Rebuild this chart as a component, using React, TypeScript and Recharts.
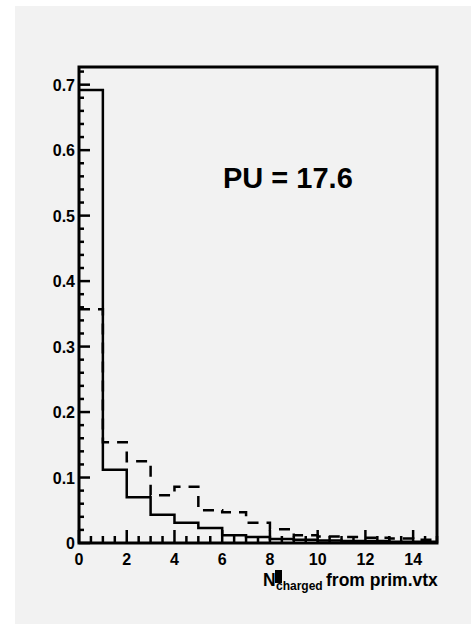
import { ComposedChart, Line, XAxis, YAxis, ReferenceArea, Customized } from 'recharts';

// bin edges 0..15, one value per bin
const binEdges = [0, 1, 2, 3, 4, 5, 6, 7, 8, 9, 10, 11, 12, 13, 14, 15];
const solidValues = [0.692, 0.112, 0.07, 0.043, 0.031, 0.023, 0.012, 0.009, 0.006, 0.005, 0.004, 0.003, 0.003, 0.002, 0.002];
const dashedValues = [0.357, 0.154, 0.125, 0.073, 0.086, 0.05, 0.047, 0.031, 0.021, 0.012, 0.01, 0.009, 0.008, 0.007, 0.005];

const xTicks = Array.from({ length: 31 }, (_, i) => i * 0.5);
const yTicks = Array.from({ length: 37 }, (_, i) => Math.round(i * 2) / 100);

const Y_MAX = 0.727;
const FONT = '"Liberation Sans", Arial, Helvetica, sans-serif';

const data = binEdges.map((x, i) => ({
  x,
  solid: solidValues[Math.min(i, solidValues.length - 1)],
  dashed: dashedValues[Math.min(i, dashedValues.length - 1)],
}));

function XTick({ x, y, payload }: any) {
  const v = payload.value;
  const major = Math.abs(v / 2 - Math.round(v / 2)) < 1e-6;
  return (
    <g>
      <line x1={x} y1={y} x2={x} y2={y - (major ? 13 : 7)} stroke="#000" strokeWidth={2.5} />
      {major && v < 15 && (
        <text x={x} y={y + 22} textAnchor="middle" fontFamily={FONT} fontWeight="bold" fontSize={16} fill="#000">
          {v}
        </text>
      )}
    </g>
  );
}

function YTick({ x, y, payload }: any) {
  const v = payload.value;
  const major = Math.abs(v * 10 - Math.round(v * 10)) < 1e-6;
  return (
    <g>
      <line x1={x} y1={y} x2={x + (major ? 11 : 5)} y2={y} stroke="#000" strokeWidth={2.5} />
      {major && (
        <text x={x - 4} y={y + 6} textAnchor="end" fontFamily={FONT} fontWeight="bold" fontSize={16} fill="#000">
          {v === 0 ? '0' : v.toFixed(1)}
        </text>
      )}
    </g>
  );
}

function XTitle({ viewBox }: any) {
  const { x, y } = viewBox;
  return (
    <g fontFamily={FONT} fontWeight="bold" fill="#000">
      <text x={x + 184} y={y + 42.5} fontSize={17.5}>N</text>
      <rect x={x + 196} y={y + 27} width={7} height={13} fill="#000" />
      <text x={x + 197} y={y + 46.5} fontSize={12}>charged</text>
      <text x={x + 247} y={y + 42.5} fontSize={17.5}>from prim.vtx</text>
    </g>
  );
}

function PuLabel() {
  return (
    <text x={208} y={181.5} fontFamily={FONT} fontWeight="bold" fontSize={29} fill="#000">
      PU = 17.6
    </text>
  );
}

export default function App() {
  return (
    <div style={{ position: 'absolute', left: 0, top: 0, width: 471, height: 624, background: '#fff' }}>
      <div style={{ position: 'absolute', left: 15, top: 6, width: 456, height: 618, background: '#f2f2f2' }}>
        <ComposedChart width={456} height={618} data={data} margin={{ top: 61, right: 34, bottom: 0, left: 0 }}>
          <XAxis
            dataKey="x"
            type="number"
            domain={[0, 15]}
            ticks={xTicks}
            interval={0}
            height={81}
            tickSize={0}
            tickMargin={0}
            tickLine={false}
            axisLine={false}
            tick={<XTick />}
            label={{ content: <XTitle /> }}
          />
          <YAxis
            type="number"
            domain={[0, Y_MAX]}
            ticks={yTicks}
            interval={0}
            width={64}
            tickSize={0}
            tickMargin={0}
            tickLine={false}
            axisLine={false}
            tick={<YTick />}
            allowDataOverflow
          />
          <Line
            type="stepAfter"
            dataKey="dashed"
            stroke="#000"
            strokeWidth={2.5}
            strokeDasharray="11 8"
            dot={false}
            activeDot={false}
            isAnimationActive={false}
          />
          <Line
            type="stepAfter"
            dataKey="solid"
            stroke="#000"
            strokeWidth={2.5}
            dot={false}
            activeDot={false}
            isAnimationActive={false}
          />
          <ReferenceArea x1={0} x2={15} y1={0} y2={Y_MAX} fill="none" stroke="#000" strokeWidth={3} ifOverflow="visible" />
          <Customized component={<PuLabel />} />
        </ComposedChart>
      </div>
    </div>
  );
}
